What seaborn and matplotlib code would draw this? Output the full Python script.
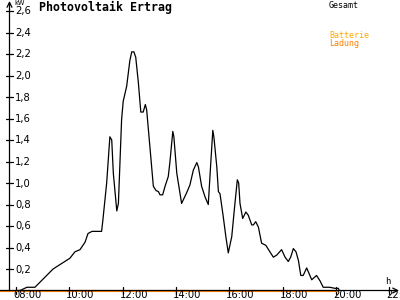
import matplotlib
matplotlib.use("Agg")
import matplotlib.pyplot as plt
import seaborn as sns
import pandas as pd

# ---- data -------------------------------------------------------------
hours = [8.00, 8.15, 8.41, 8.71, 9.39, 10.02, 10.21, 10.40, 10.59, 10.70, 10.85,
         11.21, 11.26, 11.40, 11.52, 11.59, 11.65, 11.78, 11.84, 11.96, 12.02,
         12.15, 12.27, 12.34, 12.42, 12.49, 12.59, 12.68, 12.77, 12.85, 12.90,
         13.02, 13.15, 13.25, 13.34, 13.40, 13.50, 13.59, 13.71, 13.77, 13.88,
         13.92, 14.03, 14.21, 14.40, 14.52, 14.65, 14.78, 14.84, 14.96, 15.09,
         15.21, 15.30, 15.38, 15.42, 15.53, 15.59, 15.65, 15.77, 15.87, 15.96,
         16.09, 16.21, 16.30, 16.35, 16.40, 16.50, 16.62, 16.71, 16.84, 16.90,
         16.99, 17.09, 17.21, 17.37, 17.52, 17.65, 17.78, 17.96, 18.09, 18.21,
         18.30, 18.40, 18.50, 18.59, 18.68, 18.77, 18.90, 19.02, 19.09, 19.27,
         19.40, 19.52, 19.77, 19.96, 20.09, 20.12]
gesamt_kw = [0.00, 0.00, 0.03, 0.03, 0.20, 0.30, 0.36, 0.38, 0.45, 0.53, 0.55,
             0.55, 0.66, 1.00, 1.43, 1.40, 1.09, 0.74, 0.81, 1.59, 1.76,
             1.90, 2.14, 2.22, 2.22, 2.17, 1.93, 1.66, 1.66, 1.73, 1.68,
             1.34, 0.97, 0.93, 0.92, 0.89, 0.89, 0.97, 1.06, 1.19, 1.48,
             1.43, 1.09, 0.81, 0.91, 0.98, 1.12, 1.19, 1.15, 0.97, 0.87,
             0.80, 1.17, 1.49, 1.43, 1.15, 0.92, 0.90, 0.69, 0.50, 0.35,
             0.50, 0.81, 1.03, 1.00, 0.81, 0.67, 0.73, 0.70, 0.61, 0.61,
             0.64, 0.59, 0.44, 0.42, 0.36, 0.31, 0.33, 0.38, 0.31, 0.27,
             0.31, 0.39, 0.36, 0.28, 0.14, 0.14, 0.21, 0.14, 0.10, 0.14,
             0.09, 0.03, 0.03, 0.02, 0.02, 0.00]
batterie_hours = [7.40, 20.03]
batterie_kw = [0.0, 0.0]

x_ticks = [8, 10, 12, 14, 16, 18, 20, 22]
x_tick_labels = ["08:00", "10:00", "12:00", "14:00", "16:00", "18:00", "20:00", "22:00"]
y_ticks = [0.2, 0.4, 0.6, 0.8, 1.0, 1.2, 1.4, 1.6, 1.8, 2.0, 2.2, 2.4, 2.6]
y_tick_labels = ["0,2", "0,4", "0,6", "0,8", "1,0", "1,2", "1,4", "1,6", "1,8",
                 "2,0", "2,2", "2,4", "2,6"]

df_g = pd.DataFrame({"h": hours, "kw": gesamt_kw})
df_b = pd.DataFrame({"h": batterie_hours, "kw": batterie_kw})

# ---- figure -----------------------------------------------------------
sns.set_style("white")
plt.rcParams["font.family"] = ["DejaVu Sans"]

W, H = 400, 300
fig = plt.figure(figsize=(4, 3), dpi=100)
fig.patch.set_facecolor("white")
ax = fig.add_axes([0, 0, 1, 1])
ax.set_facecolor("white")

PX_PER_H = 26.667
X0 = 8 - 16 / PX_PER_H          # hour at pixel x=0
PX_PER_KW = 107.5
Y_ZERO_PX = 290.5
ax.set_xlim(X0, X0 + W / PX_PER_H)
ax.set_ylim((Y_ZERO_PX - H) / PX_PER_KW, Y_ZERO_PX / PX_PER_KW)

def hx(px):
    return X0 + px / PX_PER_H

def vy(py):
    return (Y_ZERO_PX - py) / PX_PER_KW

yaxis_h = hx(9.5)

for s in ax.spines.values():
    s.set_visible(False)

# axes lines with arrows
arrow = dict(arrowstyle="->,head_length=0.5,head_width=0.25", lw=0.9,
             color="black", shrinkA=0, shrinkB=0, mutation_scale=7)
ax.annotate("", xy=(hx(399), 0), xytext=(hx(0), 0), arrowprops=arrow)
ax.annotate("", xy=(yaxis_h, vy(1)), xytext=(yaxis_h, 0), arrowprops=arrow)

# tick marks
for t in x_ticks:
    ax.plot([t, t], [vy(287), vy(294)], color="black", lw=0.9)
for t in y_ticks:
    ax.plot([hx(6), hx(13)], [t, t], color="black", lw=0.9)
ax.set_xticks([])
ax.set_yticks([])

# series
sns.lineplot(data=df_g, x="h", y="kw", ax=ax, color="black", lw=0.9,
             estimator=None, sort=False, legend=False)
sns.lineplot(data=df_b, x="h", y="kw", ax=ax, color="#ff8000", lw=1.5,
             estimator=None, sort=False, legend=False)

tick_font = dict(family=["Liberation Sans Narrow", "DejaVu Sans"], size=7.2)
for t, lab in zip(x_ticks, x_tick_labels):
    ax.text(t - 3 / PX_PER_H, vy(298.5), lab, ha="left", va="baseline",
            color="black", **tick_font)
for t, lab in zip(y_ticks, y_tick_labels):
    ax.text(hx(15), t - 3.5 / PX_PER_KW, lab, ha="left", va="baseline",
            color="black", **tick_font)

ax.text(hx(14), vy(5.0), "kW", ha="left", va="baseline", color="black",
        family=["Liberation Sans Narrow", "DejaVu Sans"], size=4.8)
ax.text(hx(385), vy(283.5), "h", ha="left", va="baseline", color="black",
        family=["DejaVu Sans Mono"], size=6.5)

ax.text(hx(39), vy(10.5), "Photovoltaik Ertrag", ha="left", va="baseline",
        color="black", family=["DejaVu Sans Mono"], weight="bold", size=8.4)

small = dict(family=["DejaVu Sans Mono"], size=6.0, ha="left", va="baseline")
ax.text(hx(329), vy(7.5), "Gesamt", color="black", **small)
ax.text(hx(329), vy(38.5), "Batterie", color="#ffaa00", **small)
ax.text(hx(329), vy(46.0), "Ladung", color="#ff8000", **small)

fig.savefig("out.png", dpi=100, facecolor="white")
